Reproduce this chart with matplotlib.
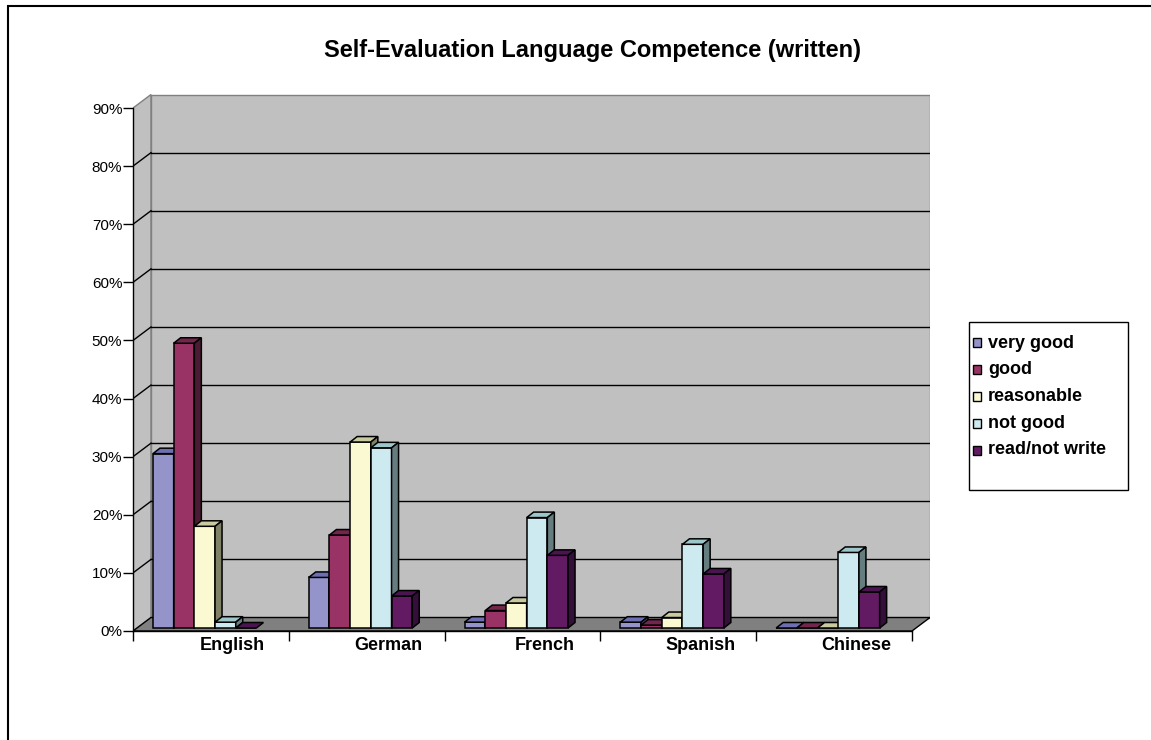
import matplotlib
matplotlib.use("Agg")
import matplotlib.pyplot as plt
from matplotlib.patches import Polygon, Rectangle
import numpy as np

plt.rcParams['font.family'] = ['Liberation Sans', 'DejaVu Sans']

# ---------------- data ----------------
title = "Self-Evaluation Language Competence (written)"
categories = ["English", "German", "French", "Spanish", "Chinese"]
series_names = ["very good", "good", "reasonable", "not good", "read/not write"]
very_good = [30.0, 8.7, 1.0, 1.0, 0.0]
good = [49.0, 16.0, 3.0, 0.5, 0.0]
reasonable = [17.5, 32.0, 4.3, 1.8, 0.0]
not_good = [1.0, 31.0, 19.0, 14.4, 13.0]
read_not_write = [0.0, 5.5, 12.5, 9.3, 6.2]
y_ticks = [0, 10, 20, 30, 40, 50, 60, 70, 80, 90]
y_tick_labels = ["0%", "10%", "20%", "30%", "40%", "50%", "60%", "70%", "80%", "90%"]

series_values = [very_good, good, reasonable, not_good, read_not_write]

# ---------------- styles ----------------
front_colors = ['#9494CA', '#993366', '#FBF9D2', '#CDEAF0', '#621B62']
top_colors = ['#6E6EB2', '#72264C', '#CACAA0', '#9CC6CA', '#4A1450']
side_colors = ['#4C4C72', '#4D1A33', '#808066', '#667D80', '#330F3A']

W, H = 1151, 740
fig = plt.figure(figsize=(W / 100, H / 100), dpi=100)

# layout in pixels
x_front0, x_back1 = 133, 930
y_zero, y_top_back = 631, 94
px_per_cat = 155.8
px_per_pct = 5.811
ax = fig.add_axes([x_front0 / W, (H - y_zero) / H,
                   (x_back1 - x_front0) / W, (y_zero - y_top_back) / H])
ax.set_xlim(0, (x_back1 - x_front0) / px_per_cat)
ax.set_ylim(0, (y_zero - y_top_back) / px_per_pct)
ax.patch.set_visible(False)

n = len(categories)
ymax = 90
DX = 18 / px_per_cat       # depth offset of walls
DY = 13.5 / px_per_pct
BDX = 7 / px_per_cat       # depth of bars
BDY = 5.5 / px_per_pct
base = 3 / px_per_pct      # bar front plane is slightly behind front edge
bw = 20.7 / px_per_cat
start = 0.128

wall_col = '#C0C0C0'
# left wall
ax.add_patch(Polygon([(0, 0), (0, ymax), (DX, ymax + DY), (DX, DY)], closed=True,
                     fc=wall_col, ec='#808080', lw=1.0, zorder=0.5))
# back wall
ax.add_patch(Rectangle((DX, DY), n, ymax, fc=wall_col, ec='#808080', lw=1.0, zorder=0.5))
# gridlines
for yv in y_ticks[1:-1]:
    ax.plot([DX, n + DX], [yv + DY, yv + DY], color='black', lw=1.0, zorder=0.8)
    ax.plot([0, DX], [yv, yv + DY], color='black', lw=1.0, zorder=0.8)
# floor
ax.add_patch(Polygon([(0, 0), (n, 0), (n + DX, DY), (DX, DY)], closed=True,
                     fc='#808080', ec='black', lw=1.0, zorder=0.9))

# bars
for j, vals in enumerate(series_values):
    lefts = np.arange(n) + start + j * bw
    z = 3 + 0.1 * j
    ax.bar(lefts, vals, width=bw, bottom=base, align='edge', color=front_colors[j],
           edgecolor='black', linewidth=1.1, zorder=z)
    for l, v in zip(lefts, vals):
        r = l + bw
        t = base + v
        ax.add_patch(Polygon([(l, t), (r, t), (r + BDX, t + BDY), (l + BDX, t + BDY)],
                             closed=True, fc=top_colors[j], ec='black', lw=1.1,
                             zorder=z + 0.05))
        if v > 0:
            ax.add_patch(Polygon([(r, base), (r, t), (r + BDX, t + BDY), (r + BDX, base + BDY)],
                                 closed=True, fc=side_colors[j], ec='black', lw=1.1,
                                 zorder=z + 0.05))

# axes / spines
for s in ['top', 'right']:
    ax.spines[s].set_visible(False)
ax.spines['left'].set_bounds(0, ymax)
ax.spines['bottom'].set_bounds(0, n)
ax.spines['left'].set_linewidth(1.0)
ax.spines['bottom'].set_linewidth(1.0)

ax.set_yticks(y_ticks)
ax.set_yticklabels(y_tick_labels, fontsize=11)
ax.tick_params(axis='y', length=7.2, width=1.0, pad=0.5, direction='out')

ax.set_xticks(np.arange(n + 1))
ax.set_xticklabels([])
ax.tick_params(axis='x', which='major', length=7.2, width=1.0, direction='out')
ax.set_xticks(np.arange(n) + 0.64, minor=True)
ax.set_xticklabels(categories, minor=True, fontsize=13, fontweight='bold')
ax.tick_params(axis='x', which='minor', length=0, pad=4.2)

# title
fig.text(592 / W, 1 - 50 / H, title, ha='center', va='center',
         fontsize=17, fontweight='bold')

# outer border
fig.patches.append(Rectangle((8 / W, -0.1), 1.2, 1 - 6 / H + 0.1, transform=fig.transFigure,
                             fill=False, ec='black', lw=1.5))

# legend (manual)
fig.patches.append(Rectangle((969 / W, 1 - 490 / H), (1128 - 969) / W, (490 - 322) / H,
                             transform=fig.transFigure, fill=False, ec='black', lw=1.0))
leg_y = [343, 369.7, 396.5, 423.2, 450]
for j, name in enumerate(series_names):
    fig.patches.append(Rectangle((972.5 / W, 1 - (leg_y[j] + 4.5) / H), 8.5 / W, 9 / H,
                                 transform=fig.transFigure, fc=front_colors[j],
                                 ec='black', lw=1.0))
    fig.text(988 / W, 1 - leg_y[j] / H, name, ha='left', va='center',
             fontsize=13, fontweight='bold')

fig.savefig('out.png', dpi=100)
